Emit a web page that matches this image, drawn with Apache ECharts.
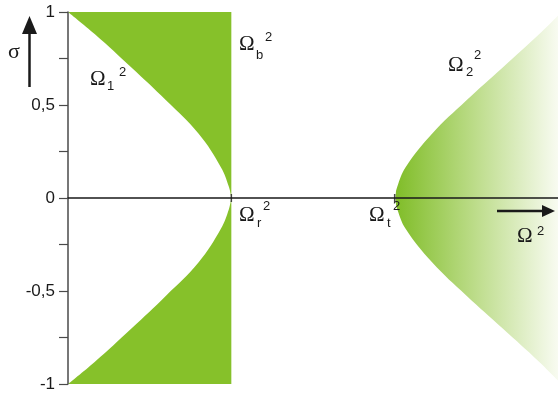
<!DOCTYPE html>
<html>
<head>
<meta charset="utf-8">
<script src="https://cdn.jsdelivr.net/npm/echarts@6/dist/echarts.min.js"></script>
<style>
  html, body { margin: 0; padding: 0; background: #fff; }
  #chart { width: 558px; height: 394px; }
</style>
</head>
<body>
<div id="chart"></div>
<script>
// Damping levels (sigma) at which the stability boundaries were sampled
const sigmaLevels = [0, 0.06, 0.165, 0.345, 0.525, 0.7, 0.88, 1];
// Lower boundary Omega_1^2(sigma), in units of Omega_r^2
const omega1Sq = [1, 0.985, 0.936, 0.80, 0.60, 0.39, 0.165, 0];
// Upper boundary Omega_2^2(sigma), in units of Omega_r^2
const omega2Sq = [2, 2.016, 2.067, 2.229, 2.44, 2.66, 2.884, 3.02];
// Characteristic frequencies marked on the Omega^2 axis
const omegaR = 1;   // Omega_r^2 (also Omega_b^2 edge)
const omegaT = 2;   // Omega_t^2
const axisMarks = [omegaR, omegaT];
// Sigma axis tick labels
const yTickValues = [-1, -0.5, 0, 0.5, 1];
const yTickLabels = ['-1', '-0,5', '0', '0,5', '1'];

const GREEN = '#86c12a';
const INK = '#1a1a1a';

const upperBranch = (xs) => sigmaLevels.map((s, i) => [xs[i], s]);
const lowerBranch = (xs) => sigmaLevels.map((s, i) => [xs[i], -s]);

function whiteArea(data, origin) {
  return {
    type: 'line',
    data: data,
    smooth: 0.4,
    showSymbol: false,
    symbol: 'none',
    silent: true,
    z: 3,
    lineStyle: { opacity: 0, width: 0 },
    areaStyle: { color: '#ffffff', opacity: 1, origin: origin }
  };
}

const chart = echarts.init(document.getElementById('chart'), null, { renderer: 'canvas' });

const serifFont = '"Liberation Serif", "DejaVu Serif", serif';
const sansFont = '"Liberation Sans", Arial, sans-serif';

function omegaLabel(x, y, sub, supX, supY, subX, subY) {
  const items = [{
    type: 'text', x: x, y: y, z: 20,
    style: { text: 'Ω', font: '21px ' + serifFont, fill: INK, align: 'left', verticalAlign: 'middle' }
  }];
  if (sub) {
    items.push({
      type: 'text', x: subX, y: subY, z: 20,
      style: { text: sub, font: '13px ' + sansFont, fill: INK, align: 'left', verticalAlign: 'middle' }
    });
  }
  items.push({
    type: 'text', x: supX, y: supY, z: 20,
    style: { text: '2', font: '13px ' + sansFont, fill: INK, align: 'left', verticalAlign: 'middle' }
  });
  return items;
}

const option = {
  animation: false,
  backgroundColor: '#ffffff',
  grid: { left: 68, right: 0, top: 12, bottom: 10, containLabel: false },
  xAxis: {
    type: 'value',
    min: 0,
    max: 3,
    z: 10,
    axisLine: { show: true, onZero: true, lineStyle: { color: INK, width: 1.5 } },
    axisTick: { show: false },
    axisLabel: { show: false },
    splitLine: { show: false }
  },
  yAxis: {
    type: 'value',
    min: -1,
    max: 1,
    interval: 0.25,
    z: 10,
    axisLine: { show: true, lineStyle: { color: '#4a4a4a', width: 1.5 } },
    axisTick: { show: true, length: 9, lineStyle: { color: '#4a4a4a', width: 1.2 } },
    axisLabel: {
      margin: 13,
      color: INK,
      fontSize: 17,
      fontFamily: sansFont,
      formatter: (v) => {
        const k = yTickValues.indexOf(v);
        return k >= 0 ? yTickLabels[k] : '';
      }
    },
    splitLine: { show: false }
  },
  series: [
    {
      // Coloured stability bands, then carved out by the white areas above
      type: 'line',
      data: [],
      z: 1,
      markArea: {
        silent: true,
        data: [
          [
            { coord: [0, -1], itemStyle: { color: GREEN } },
            { coord: [omegaR, 1] }
          ],
          [
            {
              // start a hair inside the vertex so the white cut-outs hide the edge
              coord: [omegaT + 0.006, -1],
              itemStyle: {
                color: {
                  type: 'linear', x: 0, y: 0, x2: 1, y2: 0,
                  colorStops: [
                    { offset: 0, color: '#80bd28' },
                    { offset: 0.5, color: '#bedd8c' },
                    { offset: 1, color: '#f8fbf1' }
                  ]
                }
              }
            },
            { coord: [3, 1] }
          ]
        ]
      }
    },
    whiteArea(upperBranch(omega1Sq).slice().reverse(), 'auto'),
    whiteArea(lowerBranch(omega1Sq).slice().reverse(), 'auto'),
    whiteArea(upperBranch(omega2Sq), 'end'),
    whiteArea(lowerBranch(omega2Sq), 'start'),
    {
      // Tick marks for Omega_r^2 and Omega_t^2 on the frequency axis
      type: 'scatter',
      data: axisMarks.map((x) => [x, 0]),
      symbol: 'rect',
      symbolSize: [1.5, 8],
      itemStyle: { color: INK },
      silent: true,
      z: 11
    }
  ],
  graphic: [
    // sigma axis arrow
    { type: 'line', z: 20, shape: { x1: 29.5, y1: 87, x2: 29.5, y2: 30 }, style: { stroke: INK, lineWidth: 2.5 } },
    { type: 'polygon', z: 20, shape: { points: [[22, 34], [37, 34], [29.5, 16]] }, style: { fill: INK } },
    { type: 'text', x: 8, y: 52, z: 20, style: { text: 'σ', font: '22px ' + serifFont, fill: INK, align: 'left', verticalAlign: 'middle' } },
    // Omega^2 axis arrow
    { type: 'line', z: 20, shape: { x1: 497, y1: 211, x2: 546, y2: 211 }, style: { stroke: INK, lineWidth: 2.3 } },
    { type: 'polygon', z: 20, shape: { points: [[542, 205], [542, 217], [555, 211]] }, style: { fill: INK } },
    ...omegaLabel(517, 236, null, 537, 231),
    // curve and frequency labels
    ...omegaLabel(90, 79, '1', 119, 72.5, 107, 86.5),
    ...omegaLabel(239, 44, 'b', 265, 37.5, 256, 55),
    ...omegaLabel(239, 215, 'r', 263, 206, 257, 223.5),
    ...omegaLabel(369, 215, 't', 393, 206, 387, 223),
    ...omegaLabel(448, 65, '2', 474, 55, 466, 72)
  ]
};

chart.setOption(option);
</script>
</body>
</html>
